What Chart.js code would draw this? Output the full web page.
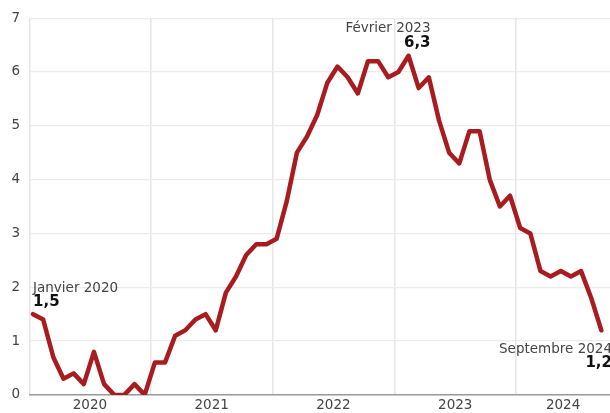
<!DOCTYPE html>
<html>
<head>
<meta charset="utf-8">
<script src="https://cdn.jsdelivr.net/npm/chart.js@4"></script>
<style>
  html, body { margin: 0; padding: 0; background: #fff; }
  #wrap { width: 610px; height: 413px; }
</style>
</head>
<body>
<div id="wrap"><canvas id="chart"></canvas></div>
<script>
// monthly values, janvier 2020 -> septembre 2024
const years = ['2020', '2021', '2022', '2023', '2024'];
const values2020 = [1.5, 1.4, 0.7, 0.3, 0.4, 0.2, 0.8, 0.2, 0.0, 0.0, 0.2, 0.0];
const values2021 = [0.6, 0.6, 1.1, 1.2, 1.4, 1.5, 1.2, 1.9, 2.2, 2.6, 2.8, 2.8];
const values2022 = [2.9, 3.6, 4.5, 4.8, 5.2, 5.8, 6.1, 5.9, 5.6, 6.2, 6.2, 5.9];
const values2023 = [6.0, 6.3, 5.7, 5.9, 5.1, 4.5, 4.3, 4.9, 4.9, 4.0, 3.5, 3.7];
const values2024 = [3.1, 3.0, 2.3, 2.2, 2.3, 2.2, 2.3, 1.8, 1.2];
const yTicks = [0, 1, 2, 3, 4, 5, 6, 7];

// callouts: month index, title, value text
const callouts = [
  { index: 0, title: 'Janvier 2020', value: '1,5', where: 'left' },
  { index: 37, title: 'Février 2023', value: '6,3', where: 'top' },
  { index: 56, title: 'Septembre 2024', value: '1,2', where: 'bottom' }
];

const values = [...values2020, ...values2021, ...values2022, ...values2023, ...values2024];
const points = values.map((v, i) => ({ x: i, y: v }));

const X_MIN = -0.3;
const X_MAX = 56.85;
const boundaries = years.map((y, k) => k === 0 ? X_MIN : 12 * k - 0.4);
const centers = years.map((y, k) => {
  const start = 12 * k - 0.4;
  const end = Math.min(start + 12, X_MAX);
  return (start + end) / 2;
});

const FONT = "'DejaVu Sans', 'Noto Sans', sans-serif";

const calloutPlugin = {
  id: 'callouts',
  afterDatasetsDraw(chart) {
    const { ctx, scales } = chart;
    ctx.save();
    callouts.forEach(c => {
      const px = scales.x.getPixelForValue(c.index);
      const py = scales.y.getPixelForValue(values[c.index]);
      let tx, ty1, ty2, align;
      if (c.where === 'left') {
        tx = px; ty1 = py - 22; ty2 = py - 8; align = 'left';
      } else if (c.where === 'top') {
        tx = px + 22; ty1 = py - 24; ty2 = py - 9; align = 'right';
      } else {
        tx = chart.width + 2; ty1 = py + 23; ty2 = py + 37; align = 'right';
      }
      ctx.textAlign = align;
      ctx.textBaseline = 'alphabetic';
      ctx.fillStyle = '#444';
      ctx.font = '13.5px ' + FONT;
      ctx.fillText(c.title, tx, ty1);
      ctx.fillStyle = '#111';
      ctx.font = 'bold 15px ' + FONT;
      ctx.fillText(c.value, tx, ty2);
    });
    ctx.restore();
  }
};

new Chart(document.getElementById('chart'), {
  type: 'line',
  data: {
    datasets: [{
      data: points,
      borderColor: '#a81c1f',
      borderWidth: 4.5,
      pointRadius: 0,
      tension: 0,
      borderJoinStyle: 'round',
      borderCapStyle: 'round'
    }]
  },
  options: {
    responsive: true,
    maintainAspectRatio: false,
    animation: false,
    layout: { padding: { top: 9, right: 0, left: 0, bottom: 0 } },
    plugins: { legend: { display: false }, tooltip: { enabled: false } },
    scales: {
      x: {
        type: 'linear',
        min: X_MIN,
        max: X_MAX,
        afterBuildTicks(scale) {
          const all = [...boundaries, ...centers].sort((a, b) => a - b);
          scale.ticks = all.map(v => ({ value: v }));
        },
        afterFit(scale) { scale.height = 14; },
        grid: {
          drawTicks: false,
          color(ctx) {
            return ctx.tick && boundaries.includes(ctx.tick.value) ? '#e6e6e6' : 'rgba(0,0,0,0)';
          },
          lineWidth: 1.5
        },
        border: { color: '#9a9a9a', width: 1.5 },
        ticks: {
          autoSkip: false,
          maxRotation: 0,
          padding: 2,
          color: '#444',
          font: { family: FONT, size: 13.5 },
          callback(v) {
            const k = centers.indexOf(v);
            return k >= 0 ? years[k] : '';
          }
        }
      },
      y: {
        min: 0,
        max: 7,
        afterBuildTicks(scale) {
          scale.ticks = yTicks.map(v => ({ value: v }));
        },
        afterFit(scale) { scale.width = 30; },
        grid: { drawTicks: false, color: '#ebebeb', lineWidth: 1.2 },
        border: { display: false },
        ticks: {
          padding: 10,
          color: '#444',
          font: { family: FONT, size: 13.5 }
        }
      }
    }
  },
  plugins: [calloutPlugin]
});
</script>
</body>
</html>
